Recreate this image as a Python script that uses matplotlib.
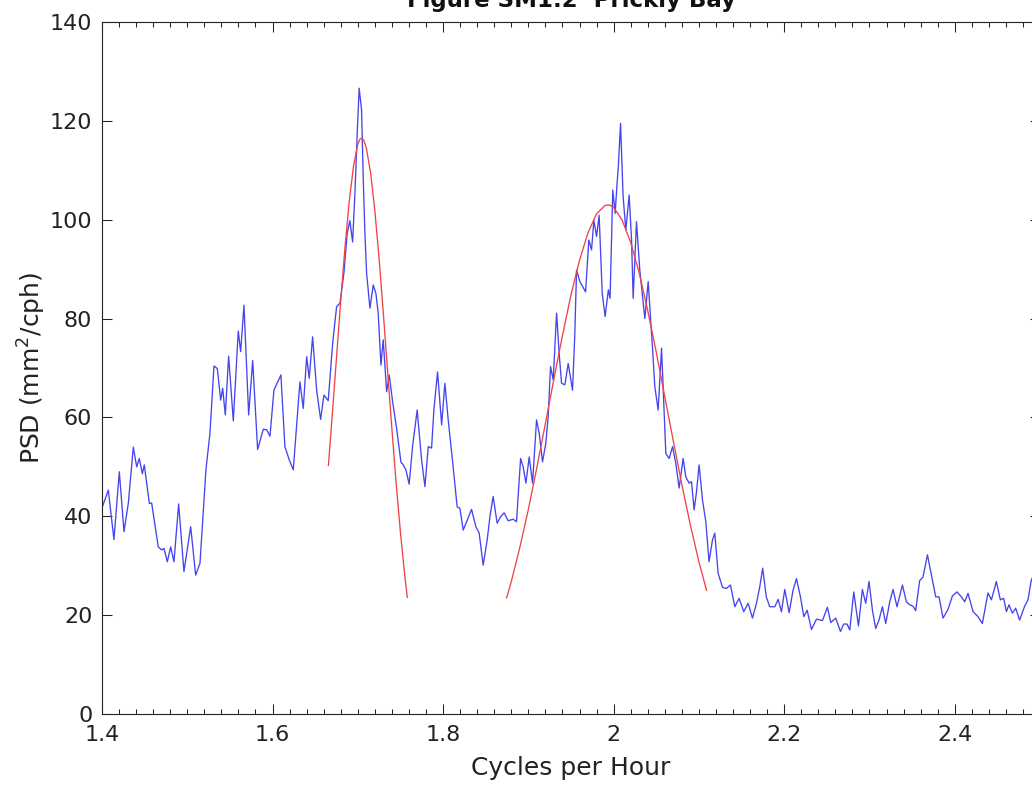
import matplotlib
matplotlib.use("Agg")
import matplotlib.pyplot as plt
from matplotlib.ticker import MultipleLocator

# spectral estimate, Prickly Bay (cycles per hour vs PSD)
freq = [
    1.4008, 1.4074, 1.4140, 1.4203, 1.4258, 1.4309, 1.4367, 1.4407, 1.4437, 1.4473,
    1.4496, 1.4555, 1.4582, 1.4660, 1.4700, 1.4727, 1.4766, 1.4805, 1.4844, 1.4899,
    1.4961, 1.5040, 1.5098, 1.5149, 1.5219, 1.5266, 1.5313, 1.5352, 1.5392, 1.5415,
    1.5446, 1.5485, 1.5540, 1.5598, 1.5626, 1.5665, 1.5720, 1.5767, 1.5825, 1.5891,
    1.5931, 1.5970, 1.6016, 1.6098, 1.6145, 1.6196, 1.6243, 1.6321, 1.6360, 1.6400,
    1.6430, 1.6470, 1.6517, 1.6564, 1.6602, 1.6653, 1.6705, 1.6751, 1.6790, 1.6837,
    1.6876, 1.6907, 1.6939, 1.6966, 1.6993, 1.7016, 1.7044, 1.7063, 1.7083, 1.7103,
    1.7142, 1.7181, 1.7212, 1.7239, 1.7271, 1.7298, 1.7338, 1.7368, 1.7408, 1.7455,
    1.7505, 1.7532, 1.7564, 1.7602, 1.7642, 1.7696, 1.7748, 1.7787, 1.7826, 1.7865,
    1.7892, 1.7935, 1.7983, 1.8021, 1.8060, 1.8118, 1.8165, 1.8197, 1.8236, 1.8282,
    1.8334, 1.8384, 1.8423, 1.8470, 1.8517, 1.8549, 1.8587, 1.8634, 1.8674, 1.8716,
    1.8763, 1.8822, 1.8861, 1.8909, 1.8939, 1.8971, 1.9010, 1.9049, 1.9096, 1.9127,
    1.9166, 1.9205, 1.9232, 1.9260, 1.9291, 1.9331, 1.9361, 1.9389, 1.9428, 1.9467,
    1.9518, 1.9545, 1.9565, 1.9604, 1.9671, 1.9709, 1.9741, 1.9768, 1.9800, 1.9830,
    1.9866, 1.9900, 1.9938, 1.9958, 1.9990, 2.0018, 2.0036, 2.0055, 2.0081, 2.0111,
    2.0143, 2.0182, 2.0210, 2.0229, 2.0268, 2.0307, 2.0366, 2.0405, 2.0456, 2.0483,
    2.0522, 2.0562, 2.0589, 2.0612, 2.0651, 2.0691, 2.0729, 2.0768, 2.0815, 2.0846,
    2.0885, 2.0913, 2.0944, 2.0972, 2.1002, 2.1042, 2.1081, 2.1119, 2.1159, 2.1186,
    2.1225, 2.1277, 2.1323, 2.1370, 2.1421, 2.1471, 2.1526, 2.1577, 2.1628, 2.1675,
    2.1714, 2.1748, 2.1790, 2.1831, 2.1890, 2.1929, 2.1968, 2.2007, 2.2058, 2.2105,
    2.2144, 2.2191, 2.2230, 2.2269, 2.2320, 2.2379, 2.2449, 2.2507, 2.2546, 2.2605,
    2.2660, 2.2698, 2.2737, 2.2769, 2.2816, 2.2871, 2.2917, 2.2956, 2.2995, 2.3035,
    2.3073, 2.3112, 2.3152, 2.3191, 2.3238, 2.3277, 2.3323, 2.3387, 2.3433, 2.3472,
    2.3511, 2.3542, 2.3589, 2.3628, 2.3680, 2.3727, 2.3777, 2.3816, 2.3863, 2.3922,
    2.3973, 2.4027, 2.4078, 2.4117, 2.4156, 2.4215, 2.4273, 2.4324, 2.4390, 2.4430,
    2.4488, 2.4535, 2.4574, 2.4606, 2.4636, 2.4676, 2.4715, 2.4761, 2.4820, 2.4859,
    2.4898, 2.4950, 2.5000,
]
psd = [
    42.1, 45.3, 35.3, 49.0, 36.9, 42.7, 54.0, 50.0, 51.7, 48.6,
    50.4, 42.6, 42.7, 33.8, 33.2, 33.5, 30.8, 33.8, 30.8, 42.5,
    28.8, 37.9, 28.1, 30.5, 49.4, 56.8, 70.4, 69.9, 63.5, 65.9,
    60.5, 72.4, 59.3, 77.5, 73.3, 82.7, 60.5, 71.5, 53.5, 57.6,
    57.5, 56.2, 65.5, 68.6, 54.1, 51.4, 49.4, 67.2, 61.8, 72.3,
    67.9, 76.3, 65.5, 59.6, 64.5, 63.4, 75.0, 82.4, 83.1, 89.2,
    97.3, 99.8, 95.5, 105.3, 117.5, 126.6, 122.2, 108.7, 97.3, 89.2,
    82.1, 86.8, 85.1, 81.1, 70.6, 75.7, 65.2, 68.6, 63.2, 57.8,
    51.0, 50.4, 49.4, 46.5, 54.1, 61.5, 51.4, 46.0, 54.1, 53.8,
    61.5, 69.2, 58.5, 66.9, 59.5, 50.0, 41.9, 41.6, 37.2, 39.2,
    41.4, 37.9, 36.6, 30.1, 35.2, 39.9, 44.0, 38.6, 39.9, 40.7,
    39.1, 39.4, 38.9, 51.7, 50.0, 46.7, 52.0, 46.7, 59.5, 56.8,
    51.0, 54.8, 60.1, 70.3, 67.6, 81.1, 73.0, 66.9, 66.6, 70.9,
    65.5, 77.0, 89.8, 87.5, 85.4, 95.9, 93.9, 99.9, 96.6, 100.9,
    85.1, 80.4, 85.8, 84.1, 106.0, 101.3, 106.3, 110.7, 119.5, 104.7,
    97.9, 105.0, 95.9, 84.1, 99.6, 89.8, 80.0, 87.5, 74.0, 66.2,
    61.5, 74.0, 62.2, 52.7, 51.7, 54.1, 50.7, 45.7, 51.7, 48.0,
    46.7, 47.0, 41.3, 45.0, 50.4, 43.3, 38.9, 30.8, 35.2, 36.6,
    28.5, 25.6, 25.4, 26.1, 21.7, 23.4, 20.7, 22.4, 19.4, 22.4,
    25.8, 29.5, 23.7, 21.7, 21.7, 23.2, 20.7, 25.2, 20.5, 25.1,
    27.4, 23.7, 19.7, 21.0, 17.1, 19.2, 18.9, 21.6, 18.5, 19.4,
    16.7, 18.2, 18.2, 17.0, 24.7, 17.8, 25.2, 22.4, 26.8, 21.0,
    17.3, 19.0, 21.7, 18.3, 22.7, 25.2, 21.7, 26.1, 22.7, 22.1,
    21.8, 20.9, 27.0, 27.7, 32.2, 28.1, 23.7, 23.7, 19.4, 21.2,
    23.9, 24.7, 23.7, 22.7, 24.4, 20.7, 19.7, 18.3, 24.5, 23.1,
    26.8, 23.1, 23.4, 20.7, 22.1, 20.4, 21.4, 19.0, 21.8, 23.1,
    27.1, 29.0, 27.0,
]

# fitted peak near 1.70 cph
fit1_freq = [1.6655, 1.6700, 1.6750, 1.6800, 1.6850, 1.6900, 1.6950, 1.7000, 1.7025,
             1.7044, 1.7070, 1.7100, 1.7150, 1.7200, 1.7250, 1.7300, 1.7350, 1.7400,
             1.7450, 1.7500, 1.7550, 1.7580]
fit1_psd = [50.3, 60.4, 72.1, 83.7, 94.5, 103.8, 110.9, 115.3, 116.3,
            116.5, 116.1, 114.5, 109.5, 101.8, 92.0, 80.9, 69.2, 57.6,
            46.6, 36.7, 28.1, 23.6]

# fitted peak near 2.0 cph
fit2_freq = [1.8745, 1.8800, 1.8900, 1.9000, 1.9100, 1.9200, 1.9300, 1.9400, 1.9500,
             1.9600, 1.9700, 1.9800, 1.9900, 1.9950, 2.0000, 2.0100, 2.0200, 2.0300,
             2.0400, 2.0500, 2.0600, 2.0700, 2.0800, 2.0900, 2.1000, 2.1090]
fit2_psd = [23.5, 26.8, 33.7, 41.4, 49.9, 58.8, 67.8, 76.6, 84.8,
            91.8, 97.4, 101.2, 102.9, 103.0, 102.5, 99.9, 95.4, 89.2,
            81.6, 73.2, 64.2, 55.2, 46.4, 38.2, 30.8, 25.0]

xticks = [1.4, 1.6, 1.8, 2.0, 2.2, 2.4]
xtick_labels = ['1.4', '1.6', '1.8', '2', '2.2', '2.4']
yticks = [0, 20, 40, 60, 80, 100, 120, 140]

plt.rcParams['font.family'] = ['DejaVu Sans']

W, H = 1032, 788
fig = plt.figure(figsize=(W / 100, H / 100), dpi=100)
# the box runs a little past the right edge of the canvas
ax = fig.add_axes([102 / W, 74 / H, 938 / W, 692 / H])

ax.plot(freq, psd, color='#4444f0', lw=0.95)
ax.plot(fit1_freq, fit1_psd, color='#f04444', lw=0.95)
ax.plot(fit2_freq, fit2_psd, color='#f04444', lw=0.95)

ax.set_xlim(1.4, 2.5)
ax.set_ylim(0, 140)
ax.set_xticks(xticks)
ax.set_xticklabels(xtick_labels)
ax.set_yticks(yticks)
ax.xaxis.set_minor_locator(MultipleLocator(0.02))

ax.tick_params(which='both', direction='in', top=True, right=True,
               width=0.75, colors='#222222', labelcolor='#222222', labelsize=16)
ax.tick_params(which='major', length=7)
ax.tick_params(which='minor', length=3.5)
ax.tick_params(axis='x', pad=8)
ax.tick_params(axis='y', pad=7)
for sp in ax.spines.values():
    sp.set_linewidth(0.8)
    sp.set_color('#222222')

ax.set_xlabel('Cycles per Hour', fontsize=18, color='#222222')
ax.xaxis.set_label_coords(0.5, -0.060)
ax.xaxis.label.set_va('top')
ax.set_ylabel('PSD (mm$^2$/cph)', fontsize=18, color='#222222')
ax.yaxis.set_label_coords(-0.0576, 0.5)

fig.text(571 / W, 1 - 7 / H, 'Figure SM1.2  Prickly Bay', ha='center',
         va='baseline', fontsize=16.5, fontweight='bold', color='#111111')

fig.savefig('out.png', dpi=100)
